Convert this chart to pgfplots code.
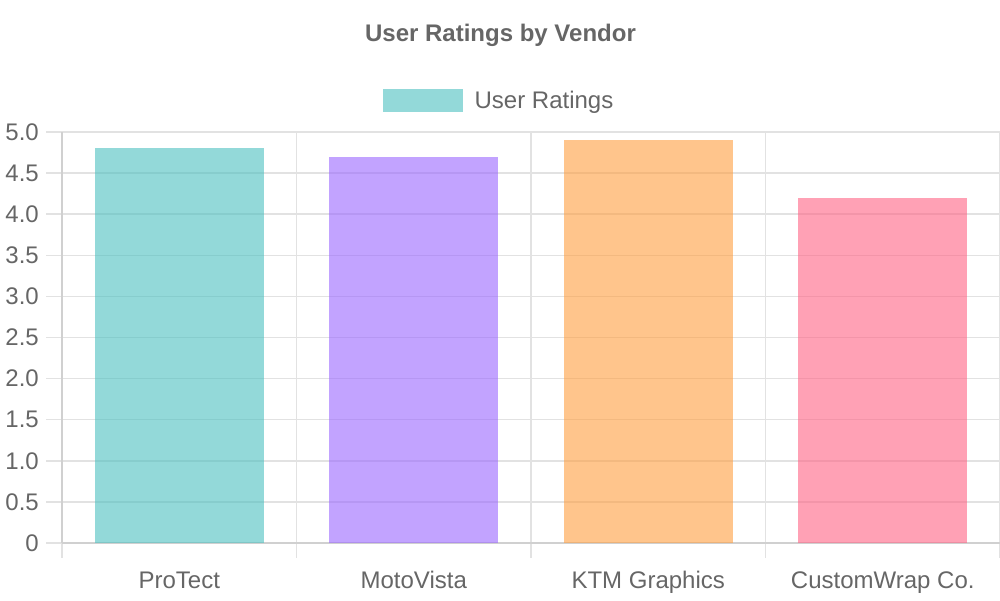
\documentclass[border=0pt]{standalone}
\usepackage{pgfplots}
\pgfplotsset{compat=1.18}
\usepackage{fontspec}
\setmainfont{Liberation Sans}

\definecolor{txt}{RGB}{102,102,102}
\definecolor{gridc}{RGB}{226,226,226}
\definecolor{axisc}{RGB}{208,208,208}
\definecolor{cteal}{RGB}{75,192,192}
\definecolor{cpurple}{RGB}{153,102,255}
\definecolor{corange}{RGB}{255,159,64}
\definecolor{cpink}{RGB}{255,99,132}

\begin{document}
\begin{tikzpicture}[x=1pt,y=1pt]
\path[use as bounding box] (0,0) rectangle (1000,600);
\node[text=txt, font=\fontsize{24}{28}\selectfont\bfseries, anchor=base, inner sep=0pt]
    at (500.5,558) {User Ratings by Vendor};
\begin{axis}[
    at={(62pt,57pt)}, anchor=south west,
    scale only axis, width=938pt, height=411pt,
    xmin=-0.5, xmax=3.5, ymin=0, ymax=5,
    axis x line*=bottom, axis y line*=left,
    xtick={0,1,2,3},
    xticklabels={ProTect,MotoVista,KTM Graphics,CustomWrap Co.},
    minor xtick={-0.5,0.5,1.5,2.5,3.5},
    ytick={0,0.5,...,5},
    yticklabels={0,0.5,1.0,1.5,2.0,2.5,3.0,3.5,4.0,4.5,5.0},
    xminorgrids, ymajorgrids,
    grid style={gridc, line width=1.5pt},
    axis line style={axisc, line width=1.5pt},
    tick align=outside, major tick length=16pt, minor tick length=15pt,
    tick style={gridc, line width=1.5pt},
    every major x tick/.append style={draw=none},
    ticklabel style={text=txt, font=\fontsize{24}{28}\selectfont, inner sep=0pt},
    yticklabel style={xshift=-7pt},
    xticklabel style={anchor=base, yshift=-29pt},
    legend style={at={(0.5,1)}, anchor=center, xshift=-33pt, yshift=31.5pt,
        draw=none, fill=none, inner sep=0pt,
        nodes={inner sep=0pt, text=txt, font=\fontsize{24}{28}\selectfont}},
]
\addplot[ybar, bar width=0.72, bar shift=0, fill=cteal, fill opacity=0.6, draw=none,
    legend image code/.code={\fill[cteal, fill opacity=0.6] (0pt,-11.5pt) rectangle (80pt,11.5pt); \path (92pt,0pt);}]
    coordinates {(0,4.8)};
\addplot[ybar, bar width=0.72, bar shift=0, fill=cpurple, fill opacity=0.6, draw=none]
    coordinates {(1,4.7)};
\addplot[ybar, bar width=0.72, bar shift=0, fill=corange, fill opacity=0.6, draw=none]
    coordinates {(2,4.9)};
\addplot[ybar, bar width=0.72, bar shift=0, fill=cpink, fill opacity=0.6, draw=none]
    coordinates {(3,4.2)};
\legend{User Ratings}
\end{axis}
\end{tikzpicture}
\end{document}
